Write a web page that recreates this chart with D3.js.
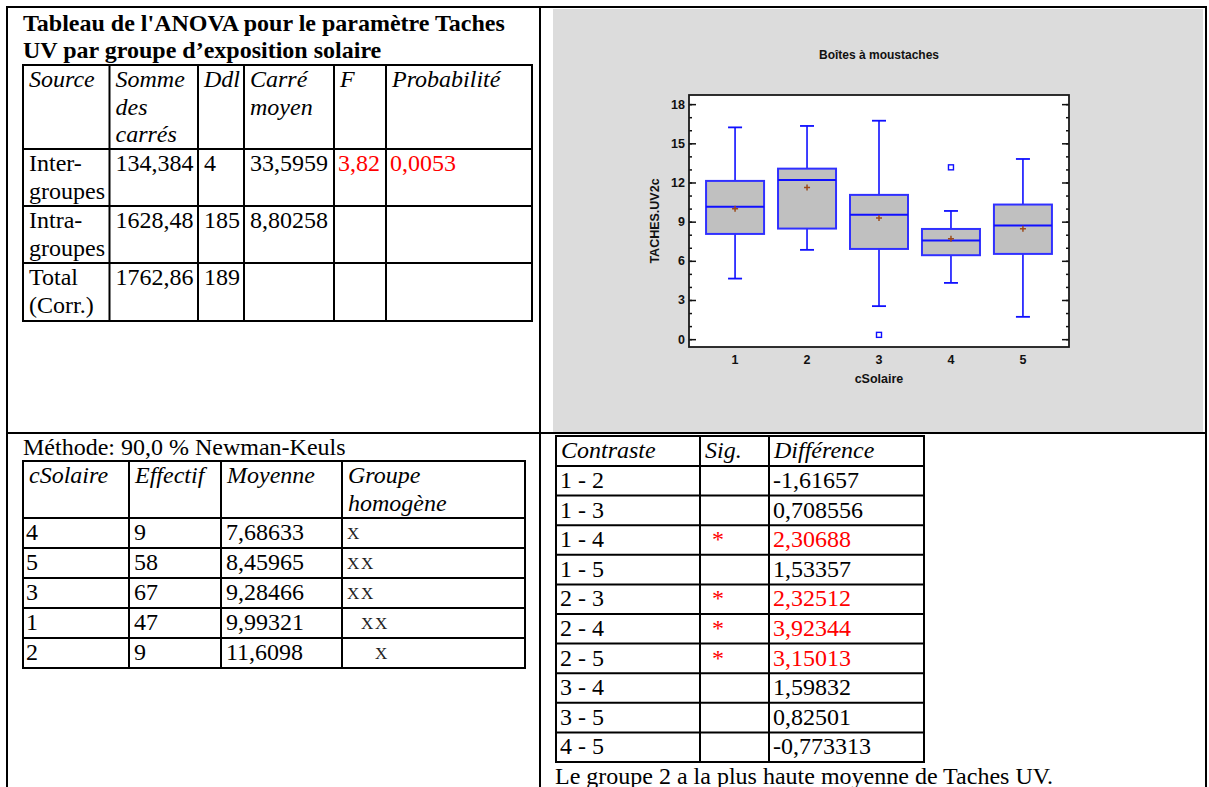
<!DOCTYPE html>
<html><head><meta charset="utf-8">
<script src="https://cdn.jsdelivr.net/npm/d3@7"></script>
<style>html,body{margin:0;padding:0;background:#fff;overflow:hidden}svg text{white-space:pre}</style>
</head><body>
<svg id="c" width="1209" height="787"></svg>
<script>
// ---------- DATA ----------
const titleLines = ["Tableau de l'ANOVA pour le paramètre Taches", "UV par groupe d’exposition solaire"];
const anovaHeaders = [["Source"], ["Somme", "des", "carrés"], ["Ddl"], ["Carré", "moyen"], ["F"], ["Probabilité"]];
const anovaSources = [["Inter-", "groupes"], ["Intra-", "groupes"], ["Total", "(Corr.)"]];
const anovaSumSq = [134.384, 1628.48, 1762.86];
const anovaDf = [4, 185, 189];
const anovaMeanSq = [33.5959, 8.80258, null];
const anovaF = [3.82, null, null];
const anovaP = [0.0053, null, null];

const nkTitle = "Méthode: 90,0 % Newman-Keuls";
const nkHeaders = [["cSolaire"], ["Effectif"], ["Moyenne"], ["Groupe", "homogène"]];
const nkLevels = [4, 5, 3, 1, 2];
const nkCounts = [9, 58, 67, 47, 9];
const nkMeans = [7.68633, 8.45965, 9.28466, 9.99321, 11.6098];
const nkGroups = ["X", "XX", "XX", " XX", "  X"];

const contrastHeaders = ["Contraste", "Sig.", "Différence"];
const contrastLabels = ["1 - 2", "1 - 3", "1 - 4", "1 - 5", "2 - 3", "2 - 4", "2 - 5", "3 - 4", "3 - 5", "4 - 5"];
const contrastSig = [false, false, true, false, true, true, true, false, false, false];
const contrastDiff = [-1.61657, 0.708556, 2.30688, 1.53357, 2.32512, 3.92344, 3.15013, 1.59832, 0.82501, -0.773313];
const conclusion = "Le groupe 2 a la plus haute moyenne de Taches UV.";

const chartTitle = "Boîtes à moustaches";
const xTitle = "cSolaire";
const yTitle = "TACHES.UV2c";
const categories = [1, 2, 3, 4, 5];
const whiskerLow = [4.64, 6.84, 2.53, 4.31, 1.71];
const quart1 = [8.06, 8.47, 6.91, 6.43, 6.53];
const medians = [10.15, 12.19, 9.52, 7.55, 8.70];
const quart3 = [12.12, 13.06, 11.05, 8.44, 10.31];
const whiskerHigh = [16.22, 16.33, 16.73, 9.82, 13.80];
const groupMeans = [9.99321, 11.6098, 9.28466, 7.68633, 8.45965];
const outlierGroups = [3, 4];
const outlierValues = [0.33, 13.16];
const yTicks = [0, 3, 6, 9, 12, 15, 18];

// ---------- HELPERS ----------
const svg = d3.select("#c");
const fr = v => (v === null || v === undefined) ? "" : String(v).replace(".", ",");
const SERIF = "'Liberation Serif','Times New Roman',serif";
const LH = 27.6;

function grid(g, xs, ys) {
  const x0 = xs[0], x1 = xs[xs.length - 1], y0 = ys[0], y1 = ys[ys.length - 1];
  xs.forEach(x => g.append("line").attr("x1", x).attr("x2", x).attr("y1", y0 - 1).attr("y2", y1 + 1));
  ys.forEach(y => g.append("line").attr("x1", x0 - 1).attr("x2", x1 + 1).attr("y1", y).attr("y2", y));
  g.selectAll("line").attr("stroke", "#000").attr("stroke-width", 2);
}
function cellText(g, x, yTop, lines, opt = {}) {
  lines.forEach((s, i) => {
    g.append("text").attr("x", x).attr("y", yTop + 22 + i * LH)
      .attr("font-family", SERIF)
      .attr("font-size", opt.size || 24)
      .attr("font-style", opt.italic ? "italic" : "normal")
      .attr("font-weight", opt.bold ? "bold" : "normal")
      .attr("fill", opt.color || "#000")
      .text(s);
  });
}
// typewriter-like text: fixed advance per character
function monoText(g, x, yTop, s) {
  s.split("").forEach((ch, k) => {
    if (ch === " ") return;
    g.append("text").attr("x", x + k * 14).attr("y", yTop + 21)
      .attr("font-family", SERIF).attr("font-size", 17).attr("fill", "#222").text(ch);
  });
}

// ---------- LAYOUT FRAME ----------
svg.append("rect").attr("x", 553).attr("y", 9).attr("width", 650).attr("height", 423).attr("fill", "#dcdcdc");
const frame = svg.append("g").attr("stroke", "#000").attr("stroke-width", 2);
frame.append("line").attr("x1", 6).attr("x2", 1207).attr("y1", 7).attr("y2", 7);
frame.append("line").attr("x1", 6).attr("x2", 1207).attr("y1", 433).attr("y2", 433);
frame.append("line").attr("x1", 7).attr("x2", 7).attr("y1", 7).attr("y2", 787);
frame.append("line").attr("x1", 540).attr("x2", 540).attr("y1", 7).attr("y2", 787);
frame.append("line").attr("x1", 1206).attr("x2", 1206).attr("y1", 7).attr("y2", 787);

// ---------- ANOVA TABLE ----------
const gA = svg.append("g");
titleLines.forEach((s, i) => gA.append("text").attr("x", 23).attr("y", 30.5 + i * LH)
  .attr("font-family", SERIF).attr("font-size", 24).attr("font-weight", "bold").text(s));
const aX = [23, 109.5, 198, 244, 334, 386, 532];
const aY = [65, 149, 206, 263, 321];
grid(gA.append("g"), aX, aY);
anovaHeaders.forEach((h, i) => cellText(gA, aX[i] + 6, aY[0], h, {italic: true}));
anovaSources.forEach((src, r) => {
  const top = aY[r + 1];
  const red = anovaP[r] !== null && anovaP[r] < 0.05;
  cellText(gA, aX[0] + 6, top, src);
  cellText(gA, aX[1] + 6, top, [fr(anovaSumSq[r])]);
  cellText(gA, aX[2] + 6, top, [fr(anovaDf[r])]);
  cellText(gA, aX[3] + 6, top, [fr(anovaMeanSq[r])]);
  cellText(gA, aX[4] + 4, top, [fr(anovaF[r])], {color: red ? "#ff0000" : "#000"});
  cellText(gA, aX[5] + 4, top, [fr(anovaP[r])], {color: red ? "#ff0000" : "#000"});
});

// ---------- NEWMAN-KEULS TABLE ----------
const gN = svg.append("g");
gN.append("text").attr("x", 23).attr("y", 455).attr("font-family", SERIF).attr("font-size", 24).text(nkTitle);
const nX = [23, 129, 221, 342, 525];
const nY = [461, 518];
nkLevels.forEach((d, i) => nY.push(518 + (i + 1) * 30));
grid(gN.append("g"), nX, nY);
nkHeaders.forEach((h, i) => cellText(gN, nX[i] + 6, nY[0], h, {italic: true}));
nkLevels.forEach((lev, r) => {
  const top = nY[r + 1];
  cellText(gN, nX[0] + 3, top, [String(lev)]);
  cellText(gN, nX[1] + 5, top, [String(nkCounts[r])]);
  cellText(gN, nX[2] + 5, top, [fr(nkMeans[r])]);
  monoText(gN, nX[3] + 5, top, nkGroups[r]);
});

// ---------- CONTRASTS TABLE ----------
const gC = svg.append("g");
const cX = [556, 700, 769, 924];
const cY = [436, 466];
contrastLabels.forEach((d, i) => cY.push(466 + (i + 1) * 29.6));
grid(gC.append("g"), cX, cY);
contrastHeaders.forEach((h, i) => cellText(gC, cX[i] + 5, cY[0], [h], {italic: true}));
contrastLabels.forEach((lab, r) => {
  const top = cY[r + 1];
  const col = contrastSig[r] ? "#ff0000" : "#000";
  cellText(gC, cX[0] + 4, top, [lab]);
  if (contrastSig[r]) cellText(gC, cX[1] + 12, top, ["*"], {color: col});
  cellText(gC, cX[2] + 4, top, [fr(contrastDiff[r])], {color: col});
});
svg.append("text").attr("x", 555).attr("y", 784).attr("font-family", SERIF).attr("font-size", 24).text(conclusion);

// ---------- BOX PLOT ----------
const SANS = "'Liberation Sans',Arial,sans-serif";
const pL = 689, pR = 1069, pT = 95, pB = 347;
const x = d3.scalePoint().domain(categories).range([pL, pR]).padding(0.64);
const y = d3.scaleLinear().domain([-0.6, 18.7]).range([pB, pT]);
const gP = svg.append("g");
gP.append("rect").attr("x", pL).attr("y", pT).attr("width", pR - pL).attr("height", pB - pT)
  .attr("fill", "#fff");

const minor = d3.range(0, 19, 1);
function ax(gen, tx, size, vals, labels) {
  const a = gP.append("g").attr("transform", `translate(${tx},0)`)
    .call(gen(y).tickValues(vals).tickSize(size).tickPadding(4)
      .tickFormat(labels ? d3.format("d") : ""));
  a.select(".domain").remove();
  a.selectAll(".tick line").attr("stroke", "#111").attr("stroke-width", 1.5);
  a.selectAll("text").attr("font-family", SANS).attr("font-weight", "bold").attr("font-size", 12.5).attr("fill", "#111");
}
ax(d3.axisLeft, pL, -3, minor, false);
ax(d3.axisLeft, pL, -7, yTicks, true);
ax(d3.axisRight, pR, -3, minor, false);
ax(d3.axisRight, pR, -7, yTicks, false);

gP.append("rect").attr("x", pL).attr("y", pT).attr("width", pR - pL).attr("height", pB - pT)
  .attr("fill", "none").attr("stroke", "#1a1a1a").attr("stroke-width", 1.8);

const BLUE = "#1010ff";
const bw = 58, cw = 14;
categories.forEach((c, i) => {
  const cx = x(c);
  const g = gP.append("g");
  g.append("line").attr("x1", cx).attr("x2", cx).attr("y1", y(quart3[i])).attr("y2", y(whiskerHigh[i])).attr("stroke", BLUE).attr("stroke-width", 1.6);
  g.append("line").attr("x1", cx).attr("x2", cx).attr("y1", y(quart1[i])).attr("y2", y(whiskerLow[i])).attr("stroke", BLUE).attr("stroke-width", 1.6);
  g.append("line").attr("x1", cx - cw / 2).attr("x2", cx + cw / 2).attr("y1", y(whiskerHigh[i])).attr("y2", y(whiskerHigh[i])).attr("stroke", BLUE).attr("stroke-width", 1.8);
  g.append("line").attr("x1", cx - cw / 2).attr("x2", cx + cw / 2).attr("y1", y(whiskerLow[i])).attr("y2", y(whiskerLow[i])).attr("stroke", BLUE).attr("stroke-width", 1.8);
  g.append("rect").attr("x", cx - bw / 2).attr("y", y(quart3[i])).attr("width", bw).attr("height", y(quart1[i]) - y(quart3[i]))
    .attr("fill", "#c0c0c0").attr("stroke", "#3030ff").attr("stroke-width", 2);
  g.append("line").attr("x1", cx - bw / 2).attr("x2", cx + bw / 2).attr("y1", y(medians[i])).attr("y2", y(medians[i])).attr("stroke", BLUE).attr("stroke-width", 2);
  const my = y(groupMeans[i]);
  g.append("path").attr("d", `M${cx - 3},${my}H${cx + 3}M${cx},${my - 3}V${my + 3}`).attr("stroke", "#9c4a1a").attr("stroke-width", 1.5);
});
outlierGroups.forEach((c, i) => {
  gP.append("rect").attr("x", x(c) - 2.5).attr("y", y(outlierValues[i]) - 2.5).attr("width", 5).attr("height", 5)
    .attr("fill", "#fff").attr("stroke", BLUE).attr("stroke-width", 1.4);
});

gP.selectAll(".xl").data(categories).enter().append("text").attr("class", "xl")
  .attr("x", d => x(d)).attr("y", 364).attr("text-anchor", "middle")
  .attr("font-family", SANS).attr("font-weight", "bold").attr("font-size", 12.5).attr("fill", "#111").text(d => d);
gP.append("text").attr("x", (pL + pR) / 2).attr("y", 383).attr("text-anchor", "middle")
  .attr("font-family", SANS).attr("font-weight", "bold").attr("font-size", 12.5).attr("fill", "#111").text(xTitle);
gP.append("text").attr("transform", `translate(659,${(pT + pB) / 2}) rotate(-90)`).attr("text-anchor", "middle")
  .attr("font-family", SANS).attr("font-weight", "bold").attr("font-size", 12.5).attr("fill", "#111").text(yTitle);
gP.append("text").attr("x", (pL + pR) / 2).attr("y", 59).attr("text-anchor", "middle")
  .attr("font-family", SANS).attr("font-weight", "bold").attr("font-size", 12).attr("fill", "#111").text(chartTitle);
</script>
</body></html>
